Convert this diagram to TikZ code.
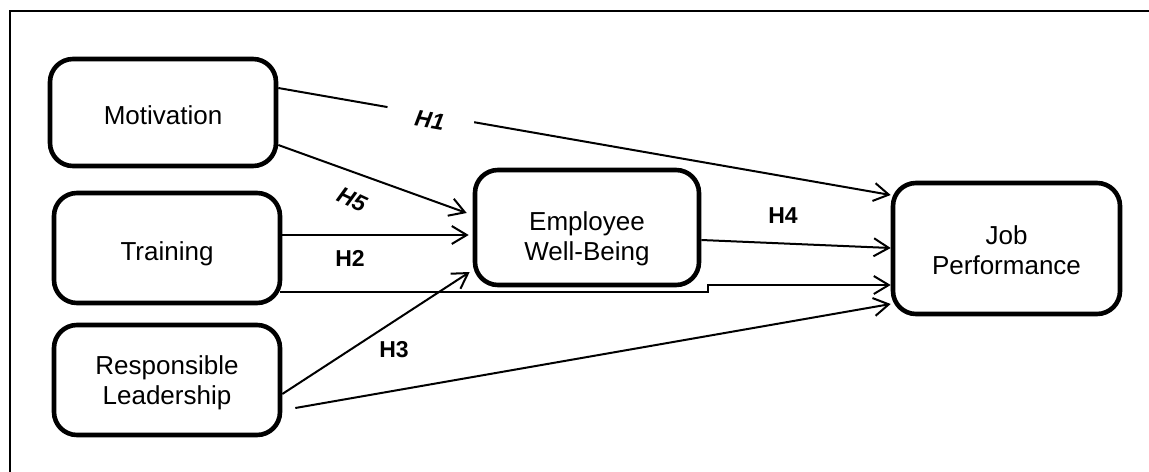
\documentclass[tikz,border=0pt]{standalone}
\usepackage{fontspec}
\setmainfont{Liberation Sans}
\usetikzlibrary{arrows.meta,calc}
\begin{document}
\begin{tikzpicture}[x=0.5pt,y=-0.5pt,
  box/.style={draw=black, line width=2.3pt, rounded corners=11.5pt,
              minimum width=113pt, inner sep=0pt},
  txt/.style={align=center, font=\fontsize{13}{15}\selectfont, inner sep=0pt},
  boxtext/.style 2 args={label={[txt,yshift=#1]center:#2}},
  arr/.style={line width=1pt, -{Straight Barb[length=7.5pt,width=9pt,line width=1pt]}},
  thinarr/.style={line width=0.8pt, -{Straight Barb[length=7.5pt,width=9pt,line width=1pt]}},
  hlab/.style={font=\fontsize{11.5}{13}\selectfont\bfseries, inner sep=1pt},
  hlabi/.style={font=\fontsize{11.5}{13}\selectfont\bfseries\itshape, inner sep=1pt},
]
\clip (0,0) rectangle (1149,471);
\draw[line width=1.1pt] (10,11) rectangle (1180,500);

% boxes
\node[box, minimum height=53.5pt, boxtext={-1.5pt}{Motivation}] (mot) at (163,112.5) {};
\node[box, minimum height=55pt, boxtext={-2.85pt}{Training}] (train) at (167,248) {};
\node[box, minimum height=55pt, boxtext={-1.35pt}{Responsible\\Leadership}] (rl) at (167,380) {};
\node[box, minimum width=112pt, minimum height=57.5pt, boxtext={-5.6pt}{Employee\\Well-Being}] (ewb) at (587,227.5) {};
\node[box, minimum width=113.5pt, minimum height=65.5pt, boxtext={-1pt}{Job\\Performance}] (jp) at (1006.5,248.5) {};

% connectors
\draw[arr] ($(mot.east)+(0,-24.5)$) --
  node[hlabi, pos=0.249, sloped, yshift=-3pt, fill=white, inner xsep=14.6pt] (h1) {H1}
  ($(jp.west)+(0,-53.5)$);
\draw[arr] ($(mot.east)+(0,32.5)$) -- ($(ewb.west)+(-6,-14.5)$);
\draw[arr] ($(train.east)+(0,-13)$) -- ($(ewb.west)+(-4,7.5)$);
\draw[arr] ($(rl.east)+(0,14)$) -- ($(ewb.west)+(-3,44.5)$);
\draw[arr] ($(rl.east)+(13,28)$) -- ($(jp.west)+(0,55.5)$);
\draw[arr] ($(ewb.east)+(0,12.5)$) -- ($(jp.west)+(0,-0.5)$);

\coordinate (tstart) at ($(train.east)+(-2,44)$);
\coordinate (tstep) at (708,285);
\draw[thinarr] (tstart) -- (tstep |- tstart) -- (tstep) -- ($(jp.west)+(0,36.5)$);

% labels
\node[hlabi, rotate=-25] (h5) at (352,200) {H5};
\node[hlab] (h2) at (350,258) {H2};
\node[hlab] (h3) at (394,350) {H3};
\node[hlab] (h4) at (783,216) {H4};
\end{tikzpicture}
\end{document}
